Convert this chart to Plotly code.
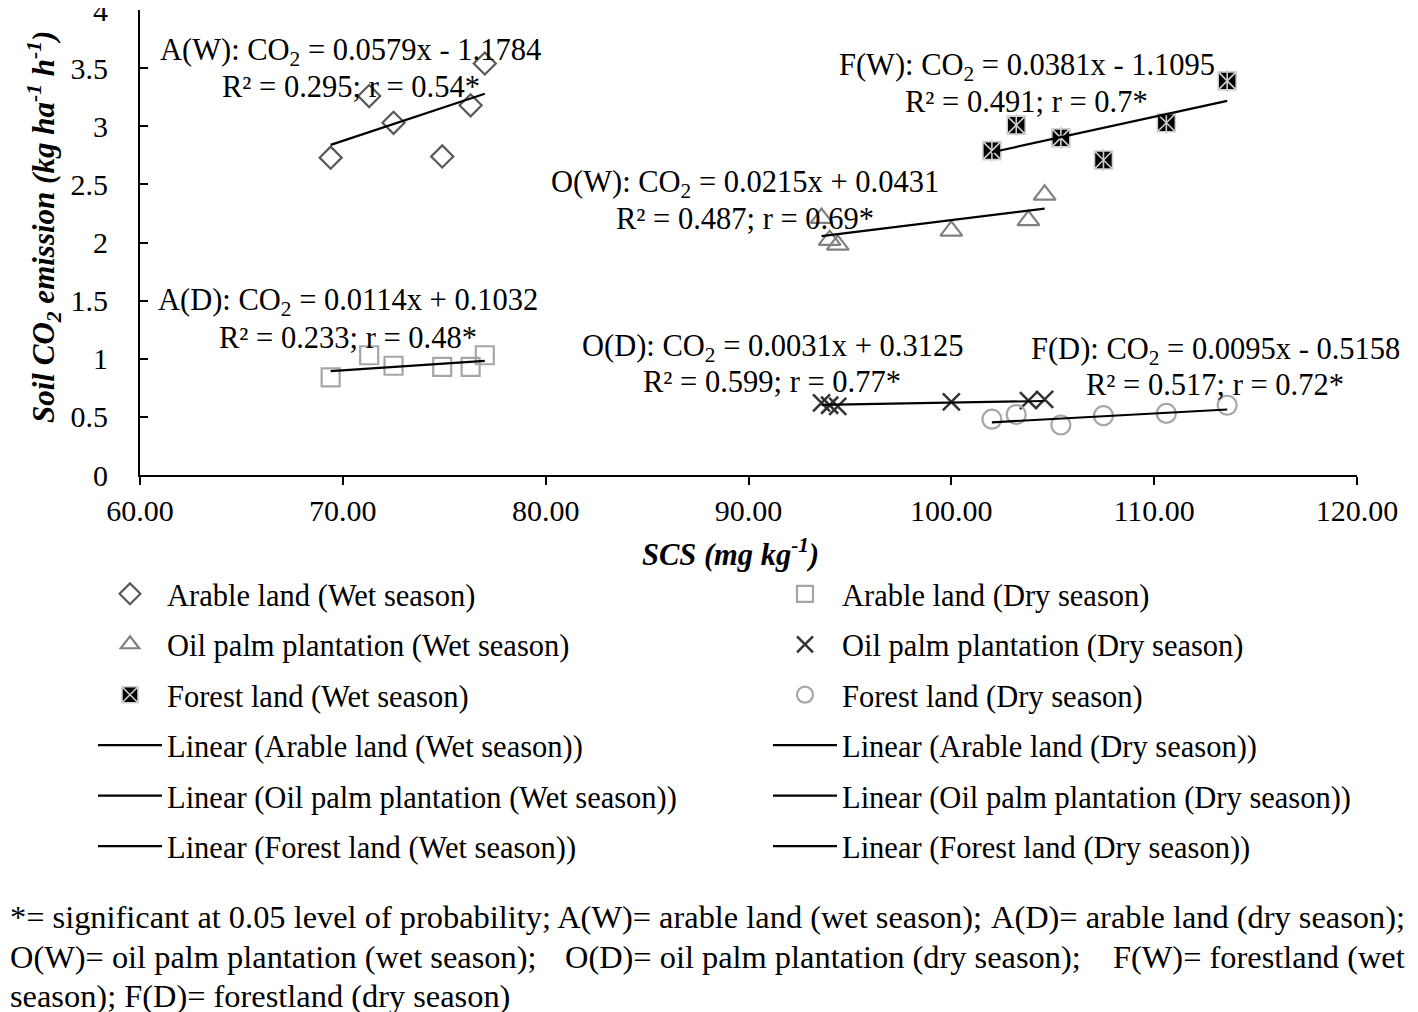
import plotly.graph_objects as go

# ---------------- data ----------------
arable_scs = [69.4, 71.3, 72.5, 74.9, 76.3, 77.0]
arable_wet_co2 = [2.73, 3.26, 3.03, 2.74, 3.18, 3.54]
arable_dry_co2 = [0.84, 1.03, 0.94, 0.93, 0.93, 1.03]

oilpalm_scs = [93.6, 94.0, 94.4, 100.0, 103.8, 104.6]
oilpalm_wet_co2 = [2.21, 2.02, 1.98, 2.10, 2.19, 2.41]
oilpalm_dry_co2 = [0.62, 0.60, 0.59, 0.63, 0.64, 0.65]

forest_scs = [102.0, 103.2, 105.4, 107.5, 110.6, 113.6]
forest_wet_co2 = [2.79, 3.01, 2.90, 2.71, 3.03, 3.39]
forest_dry_co2 = [0.48, 0.52, 0.43, 0.51, 0.53, 0.60]

# regression coefficients (slope, intercept) as printed on the chart
fit_slopes = {"AW": 0.0579, "AD": 0.0114, "OW": 0.0215, "OD": 0.0031, "FW": 0.0381, "FD": 0.0095}
fit_intercepts = {"AW": -1.1784, "AD": 0.1032, "OW": 0.0431, "OD": 0.3125, "FW": -1.1095, "FD": -0.5158}

x_ticks = [60, 70, 80, 90, 100, 110, 120]
y_ticks = [0, 0.5, 1, 1.5, 2, 2.5, 3, 3.5, 4]

FONT = "Liberation Serif"
FS = 30.5

# page offset compensation (html body margin of 8px)
OFF = 8
PL, PR, PT, PB = 140, 1357, 10, 475   # plot area in page pixels
PW, PH = PR - PL, PB - PT


def px(xp):
    return (xp - PL) / PW


def py(yp):
    return (PB - yp) / PH


fig = go.Figure()


def trend(x, key):
    xs = [min(x), max(x)]
    ys = [fit_slopes[key] * v + fit_intercepts[key] for v in xs]
    return xs, ys


series = [
    ("AW", "Arable land (Wet season)", arable_scs, arable_wet_co2, dict(symbol="diamond-open", size=17, color="#595959", line=dict(width=2.2, color="#595959")), "legend"),
    ("AD", "Arable land (Dry season)", arable_scs, arable_dry_co2, dict(symbol="square-open", size=18, color="#a6a6a6", line=dict(width=2.2, color="#a6a6a6")), "legend2"),
    ("OW", "Oil palm plantation (Wet season)", oilpalm_scs, oilpalm_wet_co2, dict(symbol="triangle-up-open", size=19, color="#808080", line=dict(width=2.2, color="#808080")), "legend"),
    ("OD", "Oil palm plantation (Dry season)", oilpalm_scs, oilpalm_dry_co2, dict(symbol="x-thin-open", size=17, color="#333333", line=dict(width=2.5, color="#333333")), "legend2"),
    ("FW", "Forest land (Wet season)", forest_scs, forest_wet_co2, dict(symbol="square-x", size=18, color="#000000", line=dict(width=1.6, color="#cfcfcf")), "legend"),
    ("FD", "Forest land (Dry season)", forest_scs, forest_dry_co2, dict(symbol="circle-open", size=19, color="#a6a6a6", line=dict(width=2.2, color="#a6a6a6")), "legend2"),
]

for i, (key, name, x, y, mk, lg) in enumerate(series):
    fig.add_trace(go.Scatter(x=x, y=y, mode="markers", name=name, marker=mk,
                             legend=lg, legendgroup=key, legendrank=i))
    if key == "FW":
        fig.add_trace(go.Scatter(x=x, y=y, mode="markers", showlegend=False,
                                 marker=dict(symbol="line-ns-open", size=16, color="#cfcfcf",
                                             line=dict(width=1.6, color="#cfcfcf")),
                                 legend=lg, legendgroup=key))

for i, (key, name, x, y, mk, lg) in enumerate(series):
    xs, ys = trend(x, key)
    fig.add_trace(go.Scatter(x=xs, y=ys, mode="lines", name=f"Linear ({name})",
                             line=dict(color="black", width=2.2),
                             legend=lg, legendgroup="lin" + key, legendrank=10 + i))

# equation annotations
eqs = [
    ("A(W): CO<sub>2</sub> = 0.0579x - 1.1784", "R² = 0.295; r = 0.54*", 70.40, 3.64, 3.34),
    ("F(W): CO<sub>2</sub> = 0.0381x - 1.1095", "R² = 0.491; r = 0.7*", 103.73, 3.51, 3.21),
    ("O(W): CO<sub>2</sub> = 0.0215x + 0.0431", "R² = 0.487; r = 0.69*", 89.83, 2.50, 2.205),
    ("A(D): CO<sub>2</sub> = 0.0114x + 0.1032", "R² = 0.233; r = 0.48*", 70.25, 1.49, 1.18),
    ("O(D): CO<sub>2</sub> = 0.0031x + 0.3125", "R² = 0.599; r = 0.77*", 91.16, 1.095, 0.80),
    ("F(D): CO<sub>2</sub> = 0.0095x - 0.5158", "R² = 0.517; r = 0.72*", 113.0, 1.07, 0.775),
]
for l1, l2, xc, y1, y2 in eqs:
    fig.add_annotation(x=xc, y=y1, text=l1, showarrow=False, xref="x", yref="y",
                       font=dict(family=FONT, size=FS, color="black"),
                       xanchor="center", yanchor="middle")
    fig.add_annotation(x=xc, y=y2, text=l2, showarrow=False, xref="x", yref="y",
                       font=dict(family=FONT, size=FS, color="black"),
                       xanchor="center", yanchor="middle")

# axis titles
fig.add_annotation(x=px(730), y=py(552), xref="paper", yref="paper",
                   text="<b><i>SCS (mg kg<sup>-1</sup>)</i></b>", showarrow=False,
                   xanchor="center", yanchor="middle",
                   font=dict(family=FONT, size=30.5, color="black"))
fig.add_annotation(x=px(44), y=py(227), xref="paper", yref="paper",
                   text="<b><i>Soil CO<sub>2</sub> emission (kg ha<sup>-1</sup> h<sup>-1</sup>)</i></b>",
                   textangle=-90, showarrow=False, xanchor="center", yanchor="middle",
                   font=dict(family=FONT, size=31, color="black"))

# footnote (justified lines emulated with left / right anchored chunks)
RIGHT_EDGE = 1407
notes = [
    ("*= significant at 0.05 level of probability; A(W)= arable land (wet season);", 917, OFF, "left"),
    ("A(D)= arable land (dry season);", 917, RIGHT_EDGE, "right"),
    ("O(W)= oil palm plantation (wet season);", 957, OFF, "left"),
    ("O(D)= oil palm plantation (dry season);", 957, 563, "left"),
    ("F(W)= forestland (wet", 957, RIGHT_EDGE, "right"),
    ("season); F(D)= forestland (dry season)", 996, OFF, "left"),
]
for txt, yp, xp, anc in notes:
    fig.add_annotation(x=px(xp), y=py(yp), xref="paper", yref="paper",
                       xanchor=anc, yanchor="middle", text=txt, showarrow=False,
                       font=dict(family=FONT, size=32.4, color="black"))

legend_common = dict(orientation="v", traceorder="grouped", tracegroupgap=7.8,
                     font=dict(family=FONT, size=FS, color="black"),
                     bgcolor="rgba(0,0,0,0)", borderwidth=0, itemwidth=64,
                     xanchor="left", yanchor="top")

fig.update_layout(
    width=1418, height=1012,
    margin=dict(l=PL - OFF, r=1418 - (PR - OFF), t=PT - OFF, b=1012 - (PB - OFF),
                autoexpand=False),
    plot_bgcolor="white", paper_bgcolor="white",
    font=dict(family=FONT, size=FS, color="black"),
    showlegend=True,
    legend=dict(**legend_common, x=px(93), y=py(567.5)),
    legend2=dict(**legend_common, x=px(768), y=py(567.5)),
    xaxis=dict(range=[60, 120], tickvals=x_ticks, tickformat=".2f",
               showline=True, linecolor="black", linewidth=2,
               ticks="outside", ticklen=8, tickwidth=2, tickcolor="black",
               showgrid=False, zeroline=False, ticklabeloverflow="allow",
               tickfont=dict(family=FONT, size=30, color="black")),
    yaxis=dict(range=[0, 4.0001], tickvals=y_ticks,
               showline=True, linecolor="black", linewidth=2,
               ticks="inside", ticklen=8, tickwidth=2, tickcolor="black",
               showgrid=False, zeroline=False, ticklabeloverflow="allow",
               ticklabelstandoff=24,
               tickfont=dict(family=FONT, size=30, color="black")),
)

fig.write_html("out.html")
